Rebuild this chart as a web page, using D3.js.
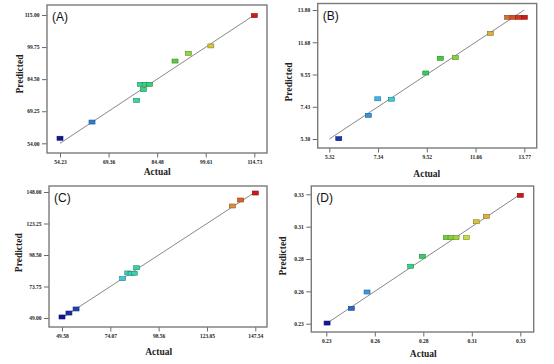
<!DOCTYPE html>
<html><head><meta charset="utf-8">
<script src="https://cdn.jsdelivr.net/npm/d3@7"></script>
<style>html,body{margin:0;padding:0;background:#fff;}svg{display:block;}</style>
</head><body>
<svg id="chart" width="554" height="364"></svg>
<script>
// ---- data ----
const panelLabels = ["(A)", "(B)", "(C)", "(D)"];
const xTitle = "Actual";
const yTitle = "Predicted";

const xTickLabelsA = ["54.23", "69.36", "84.48", "99.61", "114.73"];
const yTickLabelsA = ["54.00", "69.25", "84.50", "99.75", "115.00"];
const actualA    = [54.23, 64.2, 78.1, 79.3, 80.7, 82.1, 80.2, 90.05, 94.2, 101.2, 114.73];
const predictedA = [56.4, 64.1, 74.4, 82.05, 82.05, 82.05, 79.5, 93.1, 96.8, 100.3, 114.7];

const xTickLabelsB = ["5.32", "7.34", "9.52", "11.66", "13.77"];
const yTickLabelsB = ["5.30", "7.43", "9.55", "11.68", "13.80"];
const actualB    = [5.73, 7.01, 7.42, 8.01, 9.50, 10.13, 10.78, 12.30, 13.05, 13.28, 13.52, 13.77];
const predictedB = [5.32, 6.86, 7.95, 7.92, 9.65, 10.62, 10.66, 12.26, 13.32, 13.32, 13.32, 13.32];

const xTickLabelsC = ["49.58", "74.07", "98.56", "123.05", "147.54"];
const yTickLabelsC = ["49.00", "73.75", "98.50", "123.25", "148.00"];
const actualC    = [49.58, 53.1, 56.7, 80.3, 82.9, 84.6, 86.2, 87.4, 135.9, 140.1, 147.54];
const predictedC = [49.8, 52.9, 56.1, 79.9, 84.4, 84.0, 84.2, 88.5, 137.0, 141.7, 147.2];

const xTickLabelsD = ["0.23", "0.26", "0.28", "0.31", "0.33"];
const yTickLabelsD = ["0.23", "0.26", "0.28", "0.31", "0.33"];
const xDomainD = [0.23, 0.33];
const yDomainD = [0.23, 0.33];
const actualD    = [0.2304, 0.2429, 0.2510, 0.2735, 0.2795, 0.2919, 0.2943, 0.2969, 0.3022, 0.3073, 0.3125, 0.3300];
const predictedD = [0.2305, 0.2419, 0.2545, 0.2744, 0.2821, 0.2965, 0.2965, 0.2965, 0.2965, 0.3088, 0.3129, 0.3292];

// ---- layout ----
const panels = [
  {label: panelLabels[0], xl: xTickLabelsA, yl: yTickLabelsA, xd: [+xTickLabelsA[0], +xTickLabelsA[4]], yd: [+yTickLabelsA[0], +yTickLabelsA[4]], act: actualA, pred: predictedA,
   frame: {x0: 47, x1: 267, y0: 5, y1: 153}, pad: {l: 13, r: 12.7, t: 10, b: 9.7}, xt: {y: 174.5}, yt: {x: 22.5, y: 74}},
  {label: panelLabels[1], xl: xTickLabelsB, yl: yTickLabelsB, xd: [+xTickLabelsB[0], +xTickLabelsB[4]], yd: [+yTickLabelsB[0], +yTickLabelsB[4]], act: actualB, pred: predictedB,
   frame: {x0: 317.7, x1: 536.7, y0: 3.5, y1: 148}, pad: {l: 11.6, r: 12.4, t: 6.5, b: 9}, xt: {y: 176.5}, yt: {x: 291.5, y: 82}},
  {label: panelLabels[2], xl: xTickLabelsC, yl: yTickLabelsC, xd: [+xTickLabelsC[0], +xTickLabelsC[4]], yd: [+yTickLabelsC[0], +yTickLabelsC[4]], act: actualC, pred: predictedC,
   frame: {x0: 49, x1: 267, y0: 186, y1: 327}, pad: {l: 13, r: 11.7, t: 6, b: 9}, xt: {y: 354.5}, yt: {x: 21.5, y: 252.7}},
  {label: panelLabels[3], xl: xTickLabelsD, yl: yTickLabelsD, xd: xDomainD, yd: yDomainD, act: actualD, pred: predictedD,
   frame: {x0: 311.3, x1: 533.7, y0: 186, y1: 332}, pad: {l: 15, r: 13.4, t: 8.3, b: 8.3}, xt: {y: 357}, yt: {x: 286, y: 256}}
];

const svg = d3.select("#chart");
const serif = "'Liberation Serif','Times New Roman',serif";
const sans = "'Liberation Sans',Arial,sans-serif";

const colorStops = d3.scaleLinear()
  .domain([0, 0.14, 0.27, 0.4, 0.55, 0.72, 0.86, 1])
  .range(["#10169a", "#2a6cd0", "#40c4f0", "#38d49a", "#34c840", "#c8dc3a", "#e0a040", "#d01818"])
  .clamp(true);

panels.forEach(p => {
  const f = p.frame;
  const x = d3.scaleLinear().domain(p.xd).range([f.x0 + p.pad.l, f.x1 - p.pad.r]);
  const y = d3.scaleLinear().domain(p.yd).range([f.y1 - p.pad.b, f.y0 + p.pad.t]);
  const g = svg.append("g");

  const xtv = d3.range(5).map(i => p.xd[0] + i * (p.xd[1] - p.xd[0]) / 4);
  const ytv = d3.range(5).map(i => p.yd[0] + i * (p.yd[1] - p.yd[0]) / 4);

  // x axis
  const xAxis = d3.axisBottom(x).tickValues(xtv).tickFormat((d, i) => p.xl[i]).tickSize(4.5).tickPadding(2.5);
  const gx = g.append("g").attr("transform", `translate(0,${f.y1})`).call(xAxis);
  gx.select(".domain").remove();
  gx.selectAll("line").attr("stroke", "#444").attr("stroke-width", 0.8);
  gx.selectAll("text").attr("font-family", serif).attr("font-weight", "bold").attr("font-size", 5.5).attr("fill", "#222");

  // y axis
  const yAxis = d3.axisLeft(y).tickValues(ytv).tickFormat((d, i) => p.yl[i]).tickSize(5).tickPadding(2.5);
  const gy = g.append("g").attr("transform", `translate(${f.x0},0)`).call(yAxis);
  gy.select(".domain").remove();
  gy.selectAll("line").attr("stroke", "#444").attr("stroke-width", 0.8);
  gy.selectAll("text").attr("font-family", serif).attr("font-weight", "bold").attr("font-size", 5.5).attr("fill", "#222");

  // frame
  g.append("rect").attr("x", f.x0).attr("y", f.y0).attr("width", f.x1 - f.x0).attr("height", f.y1 - f.y0)
    .attr("fill", "none").attr("stroke", "#7a7a7a").attr("stroke-width", 1.4);

  // reference line
  g.append("line")
    .attr("x1", x(p.xd[0])).attr("y1", y(p.yd[0]))
    .attr("x2", x(p.xd[1])).attr("y2", y(p.yd[1]))
    .attr("stroke", "#6a6a6a").attr("stroke-width", 0.8);

  // points
  const pts = p.act.map((a, i) => ({a, v: p.pred[i]}));
  const col = d => colorStops((d.a - p.xd[0]) / (p.xd[1] - p.xd[0]));
  g.selectAll("rect.pt").data(pts).join("rect").attr("class", "pt")
    .attr("x", d => x(d.a) - 3).attr("y", d => y(d.v) - 2)
    .attr("width", 6).attr("height", 4)
    .attr("fill", col)
    .attr("stroke", d => d3.color(col(d)).darker(1.2))
    .attr("stroke-width", 0.6);

  // panel label
  g.append("text").attr("x", f.x0 + 5).attr("y", f.y0 + 16)
    .attr("font-family", sans).attr("font-size", 12).attr("fill", "#111").text(p.label);

  // axis titles
  g.append("text").attr("x", (x.range()[0] + x.range()[1]) / 2).attr("y", p.xt.y)
    .attr("text-anchor", "middle").attr("font-family", serif).attr("font-weight", "bold")
    .attr("font-size", 9.5).attr("fill", "#222").text(xTitle);
  g.append("text").attr("transform", `translate(${p.yt.x},${p.yt.y}) rotate(-90)`)
    .attr("text-anchor", "middle").attr("font-family", serif).attr("font-weight", "bold")
    .attr("font-size", 9.5).attr("fill", "#222").text(yTitle);
});
</script>
</body></html>
